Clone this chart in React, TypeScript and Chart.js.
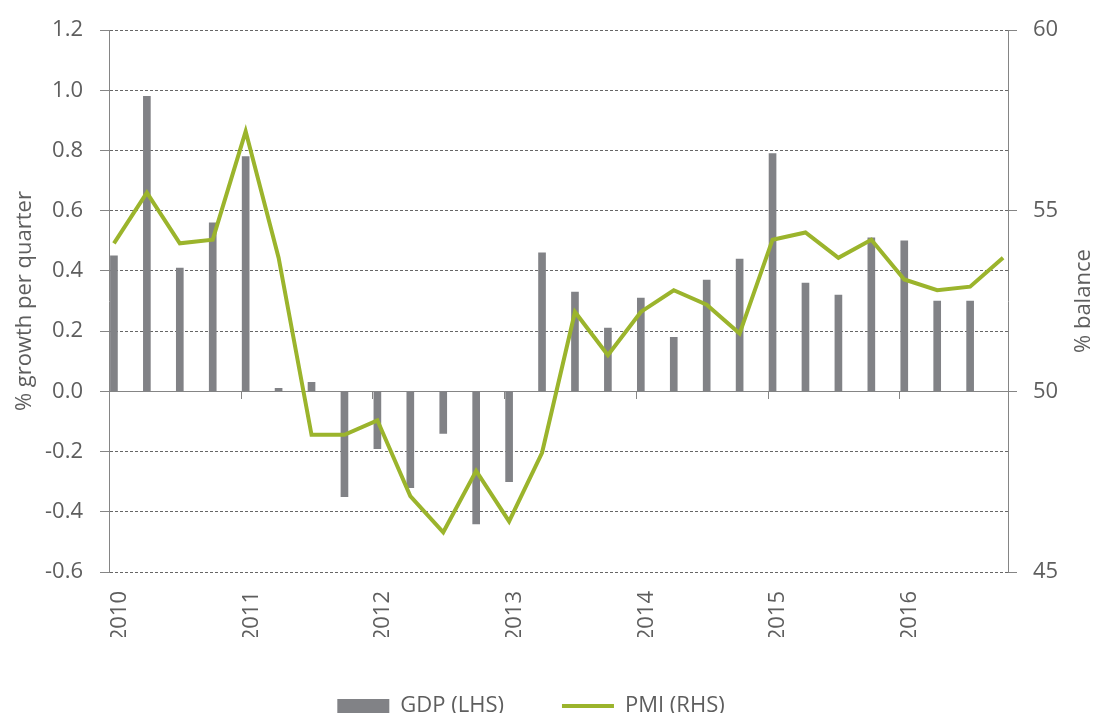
import React, { useEffect, useRef } from 'react';
import { Chart, registerables } from 'chart.js';

Chart.register(...registerables);

// Quarterly data, 2010 Q1 .. 2016 Q4
const yearLabels = ['2010', '2011', '2012', '2013', '2014', '2015', '2016'];
const gdpValues: (number | null)[] = [
  0.45, 0.98, 0.41, 0.56,
  0.78, 0.01, 0.03, -0.35,
  -0.19, -0.32, -0.14, -0.44,
  -0.30, 0.46, 0.33, 0.21,
  0.31, 0.18, 0.37, 0.44,
  0.79, 0.36, 0.32, 0.51,
  0.50, 0.30, 0.30, null,
];
const pmiValues: number[] = [
  54.1, 55.5, 54.1, 54.2,
  57.2, 53.7, 48.8, 48.8,
  49.2, 47.1, 46.1, 47.8,
  46.4, 48.3, 52.2, 51.0,
  52.2, 52.8, 52.4, 51.6,
  54.2, 54.4, 53.7, 54.2,
  53.1, 52.8, 52.9, 53.7,
];
const gdpTitle = '% growth per quarter';
const pmiTitle = '% balance';
const gdpLabel = 'GDP (LHS)';
const pmiLabel = 'PMI (RHS)';

const FONT = "'Open Sans', 'DejaVu Sans', sans-serif";
const TEXT = '#5e5e5e';
const AXIS = '#858585';
const GRID = '#666666';
const BAR = '#818286';
const LINE = '#9bb42c';
const QOFF = 0.15; // year tick sits slightly before the first quarter point
const LABEL_SHIFT = 0.17; // year labels sit slightly right of the first quarter point

const yearTickMarks = {
  id: 'yearTickMarks',
  beforeDatasetsDraw(chart: any) {
    const { ctx, scales } = chart;
    const x = scales.x;
    const y = scales.y;
    const y0 = Math.round(y.getPixelForValue(0));
    ctx.save();
    ctx.strokeStyle = AXIS;
    ctx.lineWidth = 1;
    yearLabels.forEach((_, k) => {
      const px = Math.round(x.getPixelForValue(k * 4 - QOFF)) + 0.5;
      ctx.beginPath();
      ctx.moveTo(px, y0);
      ctx.lineTo(px, y0 + 8);
      ctx.stroke();
    });
    ctx.restore();
  },
};

const rightTitle = {
  id: 'rightTitle',
  afterDraw(chart: any) {
    const { ctx, chartArea } = chart;
    const cy = (chartArea.top + chartArea.bottom) / 2;
    ctx.save();
    ctx.translate(1084, cy);
    ctx.rotate(-Math.PI / 2);
    ctx.font = `22px ${FONT}`;
    ctx.fillStyle = TEXT;
    ctx.textAlign = 'center';
    ctx.textBaseline = 'middle';
    ctx.fillText(pmiTitle, 0, 0);
    ctx.restore();
  },
};

export default function App() {
  const ref = useRef<HTMLCanvasElement>(null);

  useEffect(() => {
    document.body.style.margin = '0';
    document.body.style.overflow = 'hidden';
    Chart.defaults.font.family = FONT;
    Chart.defaults.color = TEXT;

    const chart = new Chart(ref.current as HTMLCanvasElement, {
      type: 'bar',
      data: {
        datasets: [
          {
            type: 'bar',
            label: gdpLabel,
            data: gdpValues.map((v, i) => ({ x: i, y: v })) as any,
            backgroundColor: BAR,
            borderWidth: 0,
            barThickness: 7,
            yAxisID: 'y',
            order: 1,
            pointStyle: 'rect',
          } as any,
          {
            type: 'line',
            label: pmiLabel,
            data: pmiValues.map((v, i) => ({ x: i, y: v })) as any,
            borderColor: LINE,
            backgroundColor: LINE,
            borderWidth: 4,
            pointRadius: 0,
            tension: 0,
            yAxisID: 'y1',
            order: 0,
            pointStyle: 'line',
          } as any,
        ],
      },
      options: {
        responsive: false,
        animation: false,
        layout: { padding: { top: 27, left: 0, right: 34, bottom: 0 } },
        plugins: {
          tooltip: { enabled: false },
          legend: {
            position: 'bottom',
            labels: {
              usePointStyle: true,
              pointStyleWidth: 52,
              boxHeight: 14,
              padding: 58,
              font: { size: 22 },
              color: TEXT,
              sort: (a: any, b: any) => a.datasetIndex - b.datasetIndex,
            },
          },
        },
        scales: {
          x: {
            type: 'linear',
            offset: false,
            min: -QOFF,
            max: pmiValues.length - 1 + QOFF,
            afterBuildTicks: (s: any) => {
              s.ticks = yearLabels.map((_, k) => ({ value: k * 4 + LABEL_SHIFT }));
            },
            afterFit: (s: any) => {
              s.height = 65;
            },
            ticks: {
              autoSkip: false,
              minRotation: 90,
              maxRotation: 90,
              padding: 19,
              font: { size: 22 },
              color: TEXT,
              callback: (v: any) => yearLabels[Math.round(Number(v) / 4)] ?? '',
            },
            grid: { display: false, drawTicks: false, offset: false },
            border: { display: false },
          },
          y: {
            position: 'left',
            min: -0.6,
            max: 1.2,
            afterFit: (s: any) => {
              s.width = 109;
            },
            ticks: {
              stepSize: 0.2,
              padding: 17,
              font: { size: 22 },
              color: TEXT,
              callback: (v: any) => Number(v).toFixed(1),
            },
            grid: {
              color: (c: any) => (c.tick && Math.abs(c.tick.value) < 1e-9 ? AXIS : GRID),
              lineWidth: 1,
              tickLength: 9,
              tickColor: AXIS,
            },
            border: {
              display: true,
              color: AXIS,
              width: 1,
              dash: (c: any) => (c.tick && Math.abs(c.tick.value) < 1e-9 ? [] : [3, 2]),
            } as any,
            title: {
              display: true,
              text: gdpTitle,
              font: { size: 22 },
              color: TEXT,
              padding: { top: 12, bottom: 0 },
            },
          },
          y1: {
            position: 'right',
            min: 45,
            max: 60,
            afterFit: (s: any) => {
              s.width = 54;
            },
            ticks: {
              stepSize: 5,
              padding: 16,
              font: { size: 22 },
              color: TEXT,
            },
            grid: {
              drawOnChartArea: false,
              tickLength: 9,
              tickColor: AXIS,
            },
            border: { display: true, color: AXIS, width: 1 },
          },
        },
      },
      plugins: [yearTickMarks, rightTitle],
    });

    return () => chart.destroy();
  }, []);

  return (
    <div style={{ width: 1096, height: 713, overflow: 'hidden' }}>
      <canvas ref={ref} width={1096} height={727} style={{ display: 'block' }} />
    </div>
  );
}
